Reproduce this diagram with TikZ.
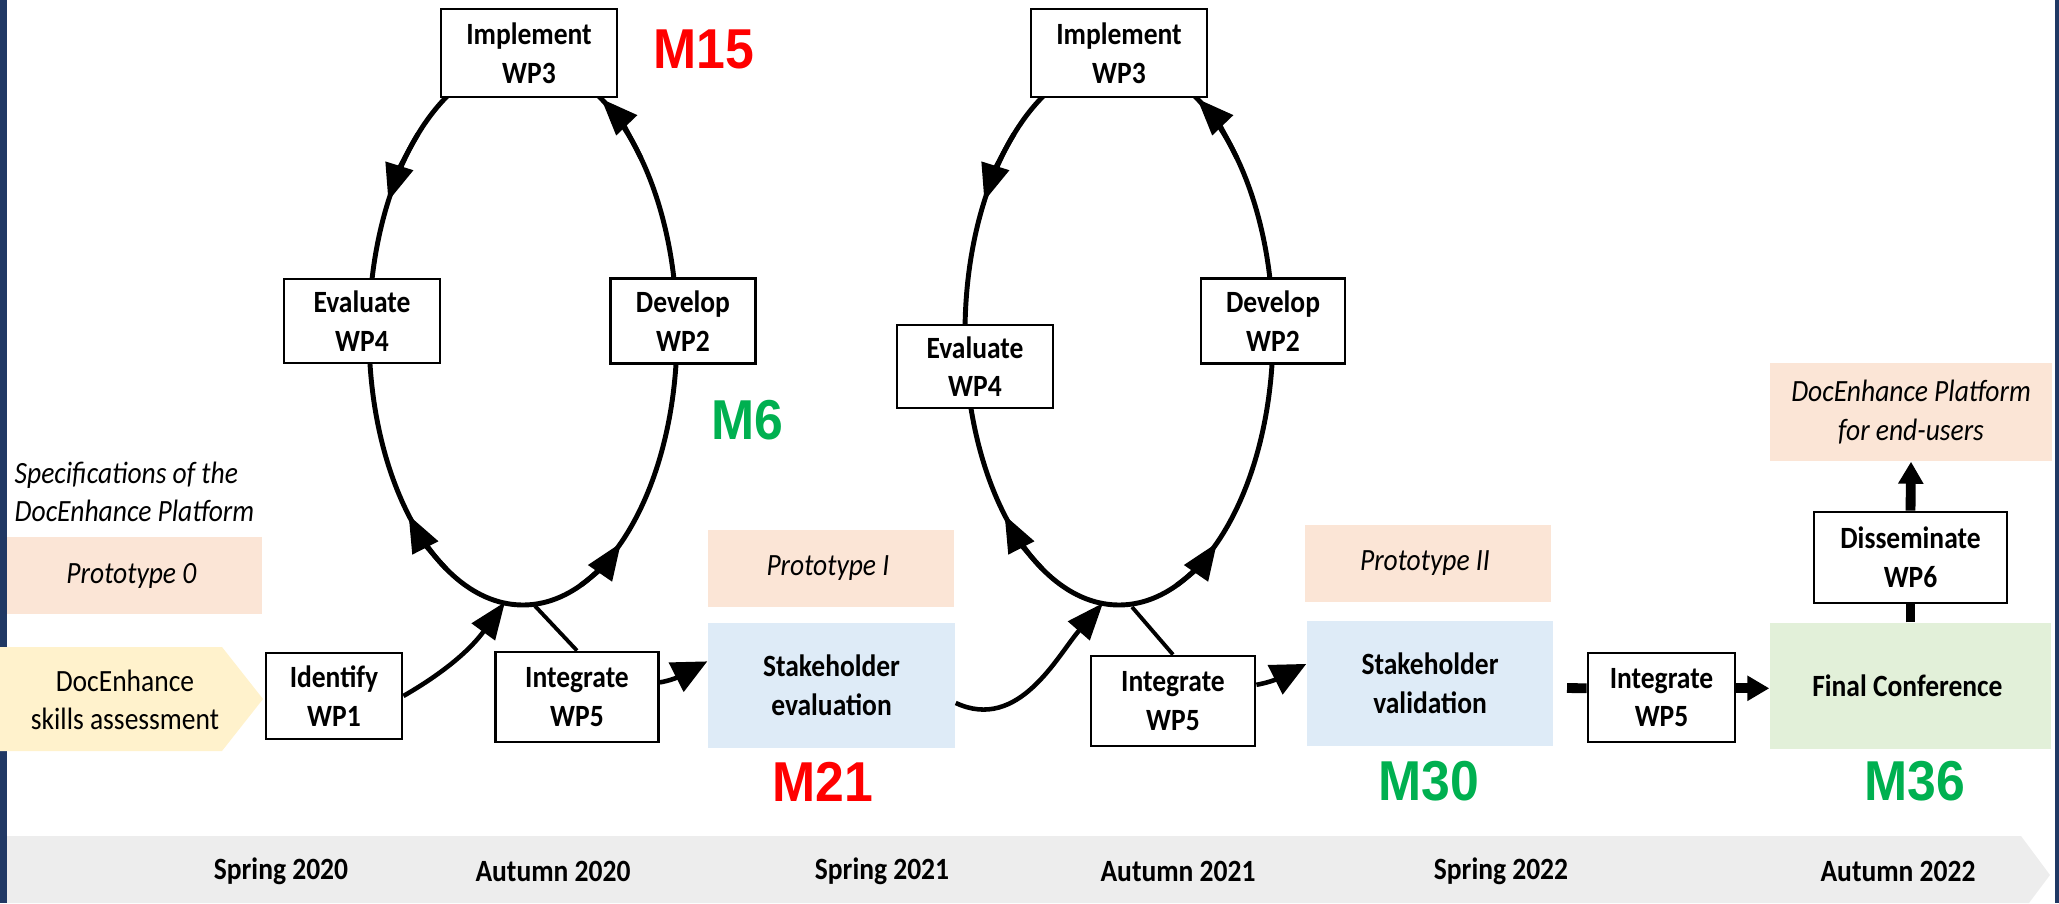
\documentclass[tikz,border=0pt]{standalone}
\usepackage{fontspec}
\setmainfont{Carlito}[FakeStretch=0.89]
\newfontfamily\mfont{Liberation Sans}[FakeStretch=0.92]
\usetikzlibrary{arrows.meta}
\definecolor{navy}{HTML}{203864}
\definecolor{peach}{HTML}{FBE5D6}
\definecolor{cream}{HTML}{FFF2CC}
\definecolor{paleblue}{HTML}{DEEBF7}
\definecolor{palegreen}{HTML}{E2F0D9}
\definecolor{bargrey}{HTML}{EDEDED}
\definecolor{mred}{HTML}{FF0000}
\definecolor{mgreen}{HTML}{00B050}
\newcommand\labelsize{\fontsize{8.8}{11}\selectfont}

\begin{document}
\begin{tikzpicture}[
  wpbox/.style={draw, line width=0.8pt, fill=white, font=\labelsize\bfseries, align=center, inner sep=0pt},
  protobox/.style={fill=peach, font=\labelsize\itshape, align=center, inner sep=0pt},
  stagebox/.style={font=\labelsize\bfseries, align=center, inner sep=0pt},
  plainlabel/.style={font=\labelsize, align=center},
  spectext/.style={font=\labelsize\itshape, align=left, inner sep=0pt},
  yearlabel/.style={font=\labelsize\bfseries},
  mlabel/.style={font=\fontsize{16}{18}\mfont\bfseries, inner sep=0pt},
  loopline/.style={line width=1.4pt},
  linkline/.style={line width=1.3pt},
  thinlink/.style={line width=1.1pt},
  fatline/.style={line width=2.8pt},
  looptip/.style={-{Triangle[length=3.7mm,width=2.8mm]}},
  bigtip/.style={-{Triangle[length=3.5mm,width=3.2mm]}},
  fattip/.style={-{Triangle[length=2.2mm,width=2.4mm]}}]
\useasboundingbox (0,0) rectangle (20.59,9.03);
\fill[bargrey] (0,0.67) -- (20.21,0.67) -- (20.50,0.28) -- (20.29,0) -- (0,0) -- cycle;
\fill[navy] (0,0) rectangle (0.07,9.03);
\fill[navy] (20.55,0) rectangle (20.59,9.03);

\node[spectext, anchor=west] (spec) at (0.14,4.11) { Specifications of the\\DocEnhance Platform };
\node[protobox, minimum width=2.55cm, minimum height=0.77cm] (proto0) at (1.345,3.275) { Prototype 0 };
\fill[cream] (0,2.56) -- (2.22,2.56) -- (2.63,2.04) -- (2.22,1.52) -- (0,1.52) -- cycle;
\node[plainlabel] (skills) at (1.25,2.03) { DocEnhance\\skills assessment };

\coordinate (loop1) at (5.23,5.70);
\coordinate (b1l) at (5.05,3.01);
\coordinate (b1r) at (5.35,2.97);
\draw[loopline] (loop1) ellipse [x radius=1.54cm, y radius=2.72cm];
\draw[loopline, looptip] (loop1) ++(133:1.54cm and 2.72cm) arc [start angle=133, end angle=151, x radius=1.54cm, y radius=2.72cm];
\draw[loopline, looptip] (loop1) ++(40:1.54cm and 2.72cm) arc [start angle=40, end angle=59.5, x radius=1.54cm, y radius=2.72cm];
\draw[loopline, looptip] (loop1) ++(-68:1.54cm and 2.72cm) arc [start angle=-68, end angle=-50.5, x radius=1.54cm, y radius=2.72cm];
\draw[loopline, looptip] (loop1) ++(240:1.54cm and 2.72cm) arc [start angle=240, end angle=222, x radius=1.54cm, y radius=2.72cm];

\coordinate (loop2) at (11.19,5.70);
\coordinate (b2l) at (11.03,3.00);
\coordinate (b2r) at (11.32,2.96);
\draw[loopline] (loop2) ellipse [x radius=1.54cm, y radius=2.72cm];
\draw[loopline, looptip] (loop2) ++(133:1.54cm and 2.72cm) arc [start angle=133, end angle=151, x radius=1.54cm, y radius=2.72cm];
\draw[loopline, looptip] (loop2) ++(40:1.54cm and 2.72cm) arc [start angle=40, end angle=59.5, x radius=1.54cm, y radius=2.72cm];
\draw[loopline, looptip] (loop2) ++(-68:1.54cm and 2.72cm) arc [start angle=-68, end angle=-50.5, x radius=1.54cm, y radius=2.72cm];
\draw[loopline, looptip] (loop2) ++(240:1.54cm and 2.72cm) arc [start angle=240, end angle=222, x radius=1.54cm, y radius=2.72cm];

\node[wpbox, minimum width=1.76cm, minimum height=0.88cm] (impl1) at (5.29,8.50) { Implement\\WP3 };
\node[wpbox, minimum width=1.56cm, minimum height=0.84cm] (eval1) at (3.62,5.82) { Evaluate\\WP4 };
\node[wpbox, minimum width=1.45cm, minimum height=0.85cm] (devel1) at (6.83,5.82) { Develop\\WP2 };
\node[wpbox, minimum width=1.36cm, minimum height=0.86cm] (ident) at (3.34,2.07) { Identify\\WP1 };
\node[wpbox, minimum width=1.63cm, minimum height=0.90cm] (integ1) at (5.77,2.06) { Integrate\\WP5 };
\node[protobox, minimum width=2.46cm, minimum height=0.77cm] (proto1) at (8.31,3.345) { Prototype I };
\node[stagebox, fill=paleblue, minimum width=2.47cm, minimum height=1.25cm] (seval) at (8.315,2.175) { Stakeholder\\evaluation };

\node[wpbox, minimum width=1.76cm, minimum height=0.88cm] (impl2) at (11.19,8.50) { Implement\\WP3 };
\node[wpbox, minimum width=1.56cm, minimum height=0.83cm] (eval2) at (9.75,5.365) { Evaluate\\WP4 };
\node[wpbox, minimum width=1.44cm, minimum height=0.85cm] (devel2) at (12.73,5.82) { Develop\\WP2 };
\node[wpbox, minimum width=1.64cm, minimum height=0.90cm] (integ2) at (11.73,2.02) { Integrate\\WP5 };
\node[protobox, minimum width=2.46cm, minimum height=0.77cm] (proto2) at (14.28,3.395) { Prototype II };
\node[stagebox, fill=paleblue, minimum width=2.46cm, minimum height=1.25cm] (sval) at (14.30,2.195) { Stakeholder\\validation };

\node[wpbox, minimum width=1.47cm, minimum height=0.89cm] (integ3) at (16.615,2.055) { Integrate\\WP5 };
\node[stagebox, fill=palegreen, minimum width=2.81cm, minimum height=1.26cm] (fconf) at (19.105,2.17) { Final Conference };
\node[wpbox, minimum width=1.93cm, minimum height=0.91cm] (dissem) at (19.105,3.455) { Disseminate\\WP6 };
\node[protobox, minimum width=2.82cm, minimum height=0.98cm] (platf) at (19.11,4.91) { DocEnhance Platform\\for end-users };

\node[mlabel, text=mred] (m15) at (7.04,8.54) { M15 };
\node[mlabel, text=mgreen] (m6) at (7.47,4.83) { M6 };
\node[mlabel, text=mred] (m21) at (8.23,1.21) { M21 };
\node[mlabel, text=mgreen] (m30) at (14.29,1.22) { M30 };
\node[mlabel, text=mgreen] (m36) at (19.15,1.22) { M36 };

\draw[linkline, looptip] (ident.east) to[out=30, in=234] (b1l);
\draw[thinlink] (integ1.north) -- (b1r);
\draw[linkline, bigtip] (integ1.10) to[out=10, in=207] (seval.169);
\draw[linkline, looptip] (seval.352) to[out=-25, in=229] (b2l);
\draw[thinlink] (integ2.north) -- (b2r);
\draw[linkline, bigtip] (integ2.11) to[out=10, in=207] (sval.171);
\coordinate (stub) at (15.67,2.15);
\draw[fatline] (stub) -- (integ3.173);
\draw[fatline, fattip] (integ3.7) -- (integ3.7 -| fconf.west);
\draw[fatline] (fconf.north) -- (dissem.south);
\draw[fatline, fattip] (dissem.north) -- (platf.south);

\node[yearlabel] (y1) at (2.81,0.32) { Spring 2020 };
\node[yearlabel] (y2) at (5.53,0.32) { Autumn 2020 };
\node[yearlabel] (y3) at (8.82,0.32) { Spring 2021 };
\node[yearlabel] (y4) at (11.78,0.32) { Autumn 2021 };
\node[yearlabel] (y5) at (15.01,0.32) { Spring 2022 };
\node[yearlabel] (y6) at (18.98,0.32) { Autumn 2022 };
\end{tikzpicture}
\end{document}
